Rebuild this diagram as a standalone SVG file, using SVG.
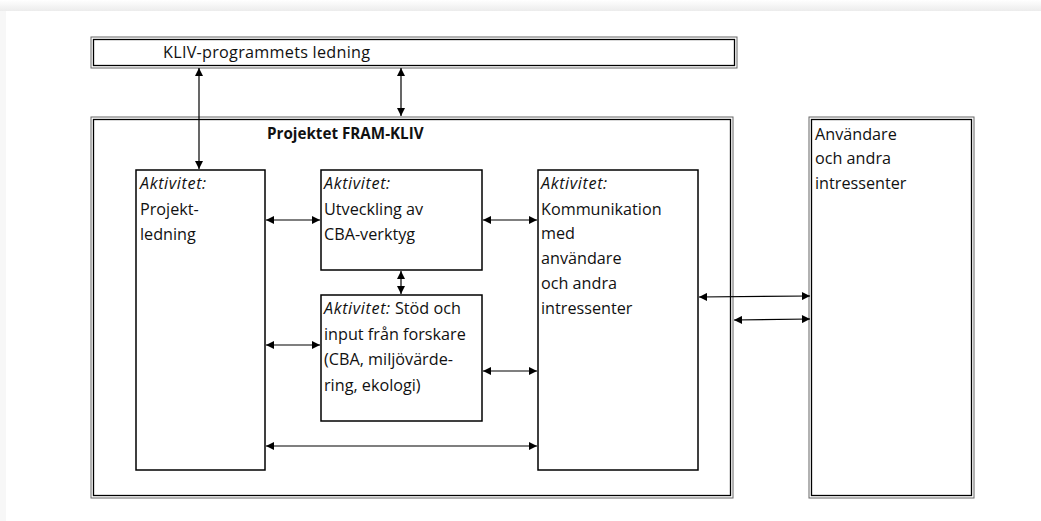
<svg xmlns="http://www.w3.org/2000/svg" width="1041" height="521" viewBox="0 0 1041 521">
<defs>
<marker id="ah" viewBox="0 0 10 10" refX="10" refY="5" markerWidth="9" markerHeight="8" markerUnits="userSpaceOnUse" orient="auto-start-reverse">
<path d="M0,0 L10,5 L0,10 z" fill="#000"/>
</marker>
<linearGradient id="top" x1="0" y1="0" x2="0" y2="1">
<stop offset="0" stop-color="#ffffff"/>
<stop offset="1" stop-color="#ececec"/>
</linearGradient>
</defs>
<style>
text{font-family:"Open Sans","Liberation Sans",sans-serif;font-size:16.2px;fill:#111}
.it{font-style:italic;letter-spacing:0.6px}
.b{font-weight:bold;font-size:15.2px}
.box{fill:#fff;stroke:#000;stroke-width:1.5}
.dout{fill:none;stroke:#666;stroke-width:1}
.din{fill:#fff;stroke:#000;stroke-width:1.3}
.c{stroke:#000;stroke-width:1.2;fill:none;marker-start:url(#ah);marker-end:url(#ah)}
</style>
<rect width="1041" height="521" fill="#fff"/>
<rect x="0" y="0" width="1041" height="11" fill="url(#top)"/>
<rect x="0" y="11" width="6" height="510" fill="#f7f7f7"/>

<g id="kliv">
<rect class="dout" x="91" y="37" width="646" height="31"/>
<rect class="din" x="93.5" y="39.5" width="641" height="26"/>
<text x="163" y="58" textLength="207" lengthAdjust="spacing">KLIV-programmets ledning</text>
</g>

<g id="fram">
<rect class="dout" x="91" y="117" width="642" height="381"/>
<rect class="din" x="93.5" y="119.5" width="637" height="376"/>
<text class="b" x="267" y="139">Projektet FRAM-KLIV</text>
</g>

<g id="anv">
<rect class="dout" x="809" y="117" width="165" height="381"/>
<rect class="din" x="811.5" y="119.5" width="160" height="376"/>
<text x="815" y="140">Användare</text>
<text x="815" y="164">och andra</text>
<text x="815" y="189">intressenter</text>
</g>

<g id="projektledning">
<rect class="box" x="136" y="170" width="129" height="300"/>
<text class="it" x="140" y="189">Aktivitet:</text>
<text x="140" y="215">Projekt-</text>
<text x="140" y="240">ledning</text>
</g>

<g id="utveckling">
<rect class="box" x="321" y="170" width="161" height="100"/>
<text class="it" x="324" y="189">Aktivitet:</text>
<text x="324" y="215">Utveckling av</text>
<text x="324" y="240">CBA-verktyg</text>
</g>

<g id="stod">
<rect class="box" x="321" y="295" width="161" height="126"/>
<text x="324" y="314"><tspan class="it">Aktivitet:</tspan> Stöd och</text>
<text x="324" y="340">input från forskare</text>
<text x="324" y="365">(CBA, miljövärde-</text>
<text x="324" y="391">ring, ekologi)</text>
</g>

<g id="kommunikation">
<rect class="box" x="538" y="170" width="160" height="300"/>
<text class="it" x="541" y="189">Aktivitet:</text>
<text x="541" y="215">Kommunikation</text>
<text x="541" y="239">med</text>
<text x="541" y="264">användare</text>
<text x="541" y="289">och andra</text>
<text x="541" y="314">intressenter</text>
</g>

<g id="connectors">
<line class="c" x1="199" y1="68" x2="199" y2="169"/>
<line class="c" x1="401" y1="68" x2="401" y2="116"/>
<line class="c" x1="266" y1="220" x2="320" y2="220"/>
<line class="c" x1="483" y1="220" x2="537" y2="220"/>
<line class="c" x1="401" y1="271" x2="401" y2="294"/>
<line class="c" x1="266" y1="345" x2="320" y2="345"/>
<line class="c" x1="483" y1="371" x2="537" y2="371"/>
<line class="c" x1="266" y1="446" x2="537" y2="446"/>
<line class="c" x1="699" y1="297" x2="810" y2="296"/>
<line class="c" x1="734" y1="320" x2="810" y2="319"/>
</g>
</svg>
